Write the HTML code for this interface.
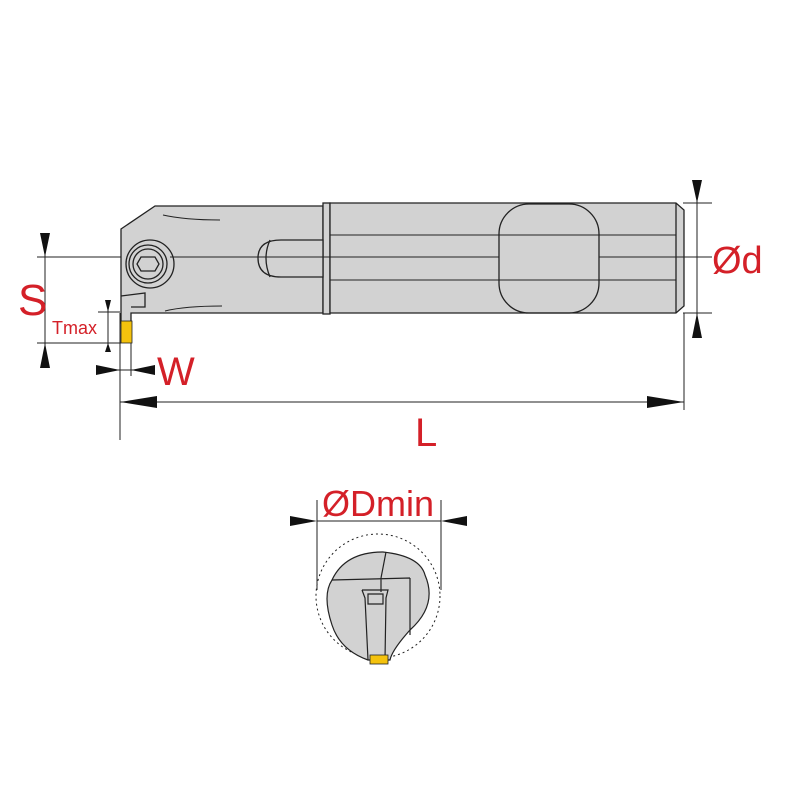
<!DOCTYPE html>
<html><head><style>body{margin:0;background:#fff}svg{display:block}</style></head><body>
<svg width="800" height="800" viewBox="0 0 800 800" xmlns="http://www.w3.org/2000/svg" font-family="Liberation Sans, sans-serif">
<g stroke="#222" stroke-width="1.3" fill="#d2d2d2">
<path d="M121,229 L155,206 L323,206 L323,313 L131,313 L131,323 L121,323 Z"/>
<rect x="323" y="203" width="7" height="111"/>
<path d="M330,203 L676,203 L684,210 L684,306 L676,313 L330,313 Z"/>
<path d="M676,203 L676,313" fill="none"/>
<path d="M281,240 L323,240 L323,277 L281,277 Q258,277 258,258 Q258,240 281,240 Z"/>
<path d="M270,240 Q262,258 270,277" fill="none"/>
<rect x="499" y="204" width="100" height="109" rx="30" fill="none"/>
<circle cx="150" cy="264" r="24"/>
<circle cx="148" cy="264" r="19"/>
<circle cx="148" cy="264" r="15"/>
<path d="M141,257 L155,257 L159,264 L155,271 L141,271 L137,264 Z"/>
<path d="M121,296 L145,293 L145,307 L131,307" fill="none"/>
</g>
<g stroke="#222" stroke-width="1" fill="none">
<path d="M163,215 Q185,220 220,220 M165,311 Q185,306 222,306"/>
<path d="M330,235 L676,235 M330,280 L676,280"/>
<path d="M37,257 L121,257 M170,257 L499,257 M599,257 L712,257 M37,343 L121,343 M98,312 L120,312"/>
<path d="M683,203 L712,203 M683,313 L712,313"/>
<path d="M45,233 L45,368 M108,300 L108,352 M697,180 L697,338"/>
<path d="M120,313 L120,440 M131,343 L131,376 M684,313 L684,410"/>
<path d="M96,370 L155,370 M120,402 L684,402"/>
</g>
<rect x="121" y="321" width="11" height="22" fill="#f4c20d" stroke="#222" stroke-width="0.8"/>
<g fill="#111">
<path d="M40,233 L50,233 L45,257 Z M40,368 L50,368 L45,343 Z"/>
<path d="M105,300 L111,300 L108,312 Z M105,352 L111,352 L108,343 Z"/>
<path d="M692,180 L702,180 L697,203 Z M692,338 L702,338 L697,313 Z"/>
<path d="M96,365 L96,375 L120,370 Z M155,365 L155,375 L131,370 Z"/>
<path d="M157,396 L157,408 L120,402 Z M647,396 L647,408 L684,402 Z"/>
<path d="M290,516 L290,526 L317,521 Z M467,516 L467,526 L441,521 Z"/>
</g>
<g fill="#d42028" font-weight="normal">
<text x="18" y="315" font-size="44">S</text>
<text x="52" y="334" font-size="18">Tmax</text>
<text x="157" y="385" font-size="40">W</text>
<text x="712" y="273" font-size="38">Ød</text>
<text x="415" y="446" font-size="40">L</text>
<text x="322" y="516" font-size="36">ØDmin</text>
</g>
<g stroke="#222" stroke-width="1" fill="none">
<path d="M317,500 L317,590 M441,500 L441,590 M317,521 L441,521"/>
<circle cx="378" cy="596" r="62" stroke-dasharray="2,3"/>
</g>
<g stroke="#222" stroke-width="1.2" fill="#d2d2d2">
<path d="M383,552 Q420,556 425,575 Q438,605 410,630 Q392,650 390,660 L368,660 Q340,650 332,625 Q322,595 332,580 Q345,552 383,552 Z"/>
<path d="M332,580 L410,578 M410,578 L410,635 M386,552 L381,578 M381,578 L381,592 M362,590 L388,590 L386,598 L385,660 M362,590 L365,598 L368,660 M368,594 L383,594 L383,604 L368,604 Z" fill="none"/>
</g>
<rect x="370" y="655" width="18" height="9" fill="#f4c20d" stroke="#222" stroke-width="0.8"/>
</svg>
</body></html>
